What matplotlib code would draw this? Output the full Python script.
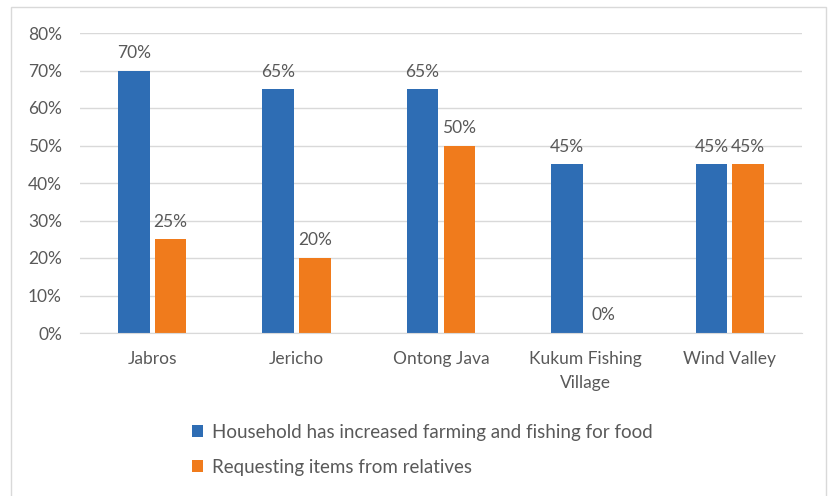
import matplotlib.pyplot as plt
import numpy as np
from matplotlib.patches import Rectangle

plt.rcParams['font.family'] = ['Lato', 'DejaVu Sans']

categories = ["Jabros", "Jericho", "Ontong Java", "Kukum Fishing\nVillage", "Wind Valley"]
farming = [70, 65, 65, 45, 45]
relatives = [25, 20, 50, 0, 45]
series_names = ["Household has increased farming and fishing for food",
                "Requesting items from relatives"]

blue = "#2E6DB4"
orange = "#F07B1C"
grey_text = "#595959"

fig = plt.figure(figsize=(8.31, 4.96), dpi=100)
# light frame like an exported office chart (bottom edge runs off the image)
fig.patches.append(Rectangle((11/831, -0.05), 815/831, 1.05 - 7/496, transform=fig.transFigure,
                             fill=False, edgecolor="#D9D9D9", linewidth=1))

ax = fig.add_axes([80/831, 1 - 333/496, 722/831, 300/496])
x = np.arange(len(categories))
w = 0.22
gap = 0.035
b1 = ax.bar(x - (w + gap) / 2, farming, w, color=blue, label=series_names[0])
b2 = ax.bar(x + (w + gap) / 2, relatives, w, color=orange, label=series_names[1])

for bars, vals in ((b1, farming), (b2, relatives)):
    for rect, v in zip(bars, vals):
        ax.annotate(f"{v}%", (rect.get_x() + rect.get_width() / 2, v),
                    xytext=(0, 7), textcoords="offset points",
                    ha="center", va="bottom", fontsize=12.5, color=grey_text)

ax.set_xlim(-0.5, len(categories) - 0.5)
ax.set_ylim(0, 80)
ax.set_yticks(range(0, 81, 10))
ax.set_yticklabels([f"{t}%" for t in range(0, 81, 10)])
ax.yaxis.grid(True, color="#D9D9D9", linewidth=1)
ax.set_axisbelow(True)
for s in ["top", "right", "left"]:
    ax.spines[s].set_visible(False)
ax.spines["bottom"].set_color("#D9D9D9")
ax.tick_params(axis="both", length=0, labelsize=12.5, labelcolor=grey_text)
ax.tick_params(axis="y", pad=13)
ax.tick_params(axis="x", pad=13)
ax.set_xticks(x)
ax.set_xticklabels(categories, linespacing=1.6)

leg = fig.legend(handles=[b1, b2], loc="upper left", bbox_to_anchor=(175/831, 1 - 407/496),
                 ncol=1, frameon=False, fontsize=13.5, handlelength=0.6, handleheight=0.6,
                 handletextpad=0.45, labelspacing=0.95, labelcolor=grey_text)

fig.savefig("out.png", dpi=100)
